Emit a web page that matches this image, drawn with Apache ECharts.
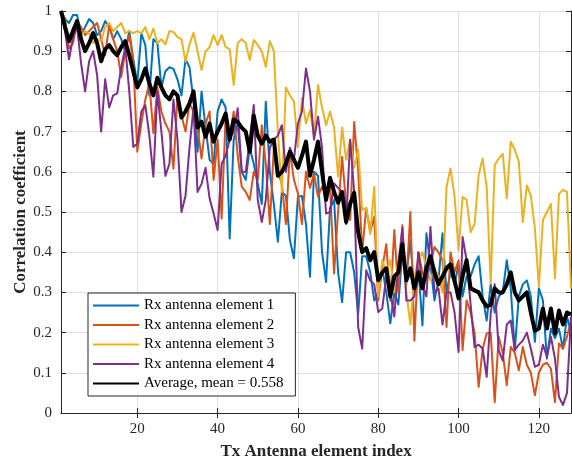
<!DOCTYPE html>
<html>
<head>
<meta charset="utf-8">
<script src="https://cdn.jsdelivr.net/npm/echarts@6/dist/echarts.min.js"></script>
<style>
  html, body { margin: 0; padding: 0; background: #fff; }
  #chart { width: 572px; height: 459px; }
</style>
</head>
<body>
<div id="chart"></div>
<script>
// Correlation coefficient per Tx antenna element (1..128) for each Rx element
const rxElement1 = [
  1.0, 0.98, 0.97, 0.99, 0.99, 0.94, 0.96, 0.98, 0.97, 0.94,
  0.95, 0.975, 0.96, 0.93, 0.95, 0.93, 0.90, 0.95, 0.88, 0.82,
  0.944, 0.915, 0.79, 0.93, 0.92, 0.81, 0.85, 0.86, 0.856, 0.83,
  0.79, 0.88, 0.86, 0.774, 0.65, 0.80, 0.71, 0.63, 0.62, 0.75,
  0.78, 0.76, 0.434, 0.68, 0.72, 0.60, 0.58, 0.66, 0.62, 0.57,
  0.52, 0.774, 0.60, 0.52, 0.426, 0.55, 0.54, 0.43, 0.385, 0.538,
  0.54, 0.47, 0.339, 0.60, 0.59, 0.40, 0.326, 0.51, 0.53, 0.35,
  0.276, 0.40, 0.40, 0.35, 0.247, 0.39, 0.39, 0.35, 0.28, 0.30,
  0.36, 0.30, 0.223, 0.30, 0.27, 0.40, 0.34, 0.43, 0.30, 0.36,
  0.218, 0.447, 0.37, 0.28, 0.33, 0.447, 0.30, 0.35, 0.32, 0.37,
  0.29, 0.34, 0.34, 0.37, 0.39, 0.29, 0.23, 0.32, 0.25, 0.29,
  0.30, 0.38, 0.31, 0.156, 0.29, 0.32, 0.33, 0.29, 0.177, 0.31,
  0.28, 0.135, 0.21, 0.186, 0.21, 0.16, 0.24, 0.20
];
const rxElement2 = [
  1.0, 0.98, 0.907, 0.92, 0.975, 0.96, 0.94, 0.95, 0.96, 0.97,
  0.93, 0.89, 0.965, 0.93, 0.90, 0.836, 0.90, 0.94, 0.875, 0.65,
  0.72, 0.78, 0.82, 0.696, 0.81, 0.75, 0.72, 0.70, 0.608, 0.786,
  0.74, 0.70, 0.77, 0.75, 0.71, 0.633, 0.72, 0.75, 0.58, 0.68,
  0.484, 0.74, 0.687, 0.75, 0.64, 0.563, 0.55, 0.53, 0.60, 0.58,
  0.716, 0.62, 0.47, 0.66, 0.60, 0.57, 0.47, 0.654, 0.58, 0.546,
  0.47, 0.60, 0.56, 0.596, 0.538, 0.563, 0.54, 0.56, 0.347, 0.50,
  0.637, 0.52, 0.48, 0.724, 0.604, 0.40, 0.51, 0.45, 0.488, 0.28,
  0.36, 0.42, 0.28, 0.455, 0.30, 0.467, 0.32, 0.50, 0.18, 0.40,
  0.35, 0.33, 0.37, 0.413, 0.40, 0.38, 0.214, 0.40, 0.35, 0.38,
  0.156, 0.28, 0.25, 0.198, 0.065, 0.16, 0.198, 0.20, 0.027, 0.19,
  0.15, 0.069, 0.164, 0.15, 0.106, 0.164, 0.12, 0.10, 0.044, 0.10,
  0.12, 0.125, 0.11, 0.027, 0.173, 0.16, 0.19, 0.23
];
const rxElement3 = [
  1.0, 0.97, 0.93, 0.96, 0.955, 0.94, 0.95, 0.945, 0.92, 0.93,
  0.925, 0.96, 0.97, 0.95, 0.96, 0.97, 0.945, 0.95, 0.945, 0.95,
  0.945, 0.96, 0.93, 0.956, 0.92, 0.93, 0.917, 0.95, 0.948, 0.935,
  0.93, 0.874, 0.917, 0.946, 0.90, 0.853, 0.90, 0.91, 0.94, 0.915,
  0.94, 0.91, 0.905, 0.816, 0.92, 0.93, 0.92, 0.878, 0.928, 0.915,
  0.90, 0.861, 0.925, 0.90, 0.70, 0.55, 0.81, 0.79, 0.775, 0.662,
  0.783, 0.72, 0.753, 0.69, 0.816, 0.76, 0.716, 0.75, 0.71, 0.588,
  0.71, 0.63, 0.68, 0.61, 0.655, 0.505, 0.51, 0.445, 0.563, 0.29,
  0.38, 0.35, 0.38, 0.30, 0.38, 0.42, 0.30, 0.22, 0.34, 0.38,
  0.40, 0.36, 0.33, 0.36, 0.34, 0.30, 0.563, 0.608, 0.54, 0.405,
  0.538, 0.53, 0.45, 0.47, 0.592, 0.633, 0.563, 0.322, 0.617, 0.633,
  0.645, 0.534, 0.675, 0.655, 0.625, 0.475, 0.566, 0.54, 0.46, 0.314,
  0.48, 0.50, 0.52, 0.335, 0.545, 0.555, 0.55, 0.31
];
const rxElement4 = [
  1.0, 0.95, 0.88, 0.935, 0.96, 0.87, 0.80, 0.875, 0.90, 0.84,
  0.70, 0.83, 0.76, 0.79, 0.795, 0.86, 0.91, 0.80, 0.662, 0.67,
  0.75, 0.766, 0.69, 0.588, 0.80, 0.70, 0.59, 0.62, 0.78, 0.68,
  0.50, 0.54, 0.66, 0.76, 0.55, 0.57, 0.61, 0.534, 0.496, 0.455,
  0.62, 0.64, 0.68, 0.70, 0.758, 0.60, 0.60, 0.68, 0.766, 0.53,
  0.475, 0.53, 0.66, 0.68, 0.69, 0.716, 0.60, 0.66, 0.63, 0.72,
  0.75, 0.857, 0.80, 0.68, 0.737, 0.66, 0.496, 0.50, 0.571, 0.56,
  0.55, 0.47, 0.68, 0.55, 0.214, 0.16, 0.355, 0.33, 0.32, 0.251,
  0.26, 0.34, 0.30, 0.24, 0.37, 0.46, 0.28, 0.28, 0.29, 0.40,
  0.32, 0.29, 0.463, 0.30, 0.31, 0.22, 0.30, 0.30, 0.25, 0.152,
  0.438, 0.38, 0.27, 0.164, 0.17, 0.16, 0.09, 0.247, 0.32, 0.156,
  0.13, 0.22, 0.23, 0.156, 0.17, 0.18, 0.20, 0.16, 0.115, 0.12,
  0.17, 0.14, 0.19, 0.135, 0.04, 0.02, 0.05, 0.24
];
const rxAverage = [
  1.0, 0.96, 0.925, 0.95, 0.975, 0.93, 0.90, 0.92, 0.945, 0.92,
  0.875, 0.905, 0.915, 0.90, 0.89, 0.91, 0.925, 0.89, 0.85, 0.81,
  0.83, 0.857, 0.82, 0.79, 0.834, 0.81, 0.79, 0.78, 0.80, 0.79,
  0.735, 0.75, 0.77, 0.80, 0.71, 0.725, 0.687, 0.72, 0.675, 0.70,
  0.72, 0.745, 0.68, 0.73, 0.724, 0.71, 0.70, 0.65, 0.74, 0.69,
  0.67, 0.69, 0.675, 0.68, 0.59, 0.60, 0.62, 0.65, 0.63, 0.61,
  0.64, 0.675, 0.59, 0.63, 0.675, 0.60, 0.53, 0.585, 0.55, 0.523,
  0.55, 0.475, 0.52, 0.548, 0.45, 0.40, 0.41, 0.38, 0.40, 0.33,
  0.35, 0.36, 0.29, 0.34, 0.35, 0.42, 0.33, 0.36, 0.31, 0.35,
  0.31, 0.36, 0.39, 0.35, 0.32, 0.34, 0.36, 0.37, 0.33, 0.285,
  0.34, 0.38, 0.31, 0.305, 0.30, 0.28, 0.265, 0.27, 0.31, 0.30,
  0.30, 0.32, 0.35, 0.30, 0.28, 0.29, 0.30, 0.25, 0.205, 0.21,
  0.26, 0.21, 0.26, 0.198, 0.255, 0.22, 0.25, 0.245
];
const seriesNames = [
  'Rx antenna element 1', 'Rx antenna element 2', 'Rx antenna element 3',
  'Rx antenna element 4', 'Average, mean = 0.558'
];
const xTickValues = [20, 40, 60, 80, 100, 120];
const xMin = 1, xMax = 128;

const seriesData = [rxElement1, rxElement2, rxElement3, rxElement4, rxAverage];
const colors = ['#0072BD', '#D95319', '#EDB120', '#7E2F8E', '#000000'];
const widths = [2, 2, 2, 2, 4];

const axisColor = '#262626';
const gridColor = '#e0e0e0';
const serif = '"Liberation Serif", "Times New Roman", serif';

const chart = echarts.init(document.getElementById('chart'), null, { renderer: 'canvas' });

const series = seriesData.map((vals, k) => ({
  name: seriesNames[k],
  type: 'line',
  data: vals.map((v, i) => [i + 1, v]),
  symbol: 'none',
  color: colors[k],
  lineStyle: { color: colors[k], width: widths[k], join: 'round' },
  animation: false,
  z: 2 + k
}));

chart.setOption({
  backgroundColor: '#ffffff',
  animation: false,
  grid: {
    left: 61, right: 1, top: 11, bottom: 46,
    containLabel: false, outerBoundsMode: 'none'
  },
  legend: {
    orient: 'vertical',
    left: 88,
    top: 293,
    data: seriesNames,
    itemWidth: 46,
    itemHeight: 14,
    itemGap: 4.5,
    padding: [5, 12, 5, 4],
    borderColor: axisColor,
    borderWidth: 1,
    backgroundColor: '#ffffff',
    itemStyle: { opacity: 0 },
    textStyle: { fontFamily: serif, fontSize: 15, color: '#000' },
    selectedMode: false
  },
  xAxis: [
    {
      type: 'value', min: xMin, max: xMax, position: 'bottom',
      name: 'Tx Antenna element index', nameLocation: 'middle', nameGap: 30,
      nameMoveOverlap: false,
      nameTextStyle: { fontFamily: serif, fontSize: 17, fontWeight: 'bold', color: axisColor },
      axisLine: { show: true, lineStyle: { color: axisColor, width: 1 } },
      axisTick: { show: true, inside: true, length: 5, customValues: xTickValues, lineStyle: { color: axisColor } },
      axisLabel: { show: true, customValues: xTickValues, margin: 9, fontFamily: serif, fontSize: 15, color: axisColor },
      splitLine: { show: true, lineStyle: { color: gridColor, width: 1 } }
    },
    {
      type: 'value', min: xMin, max: xMax, position: 'top',
      axisLine: { show: true, lineStyle: { color: axisColor, width: 1 } },
      axisTick: { show: true, inside: true, length: 5, customValues: xTickValues, lineStyle: { color: axisColor } },
      axisLabel: { show: false },
      splitLine: { show: false }
    }
  ],
  yAxis: [
    {
      type: 'value', min: 0, max: 1, interval: 0.1, position: 'left',
      name: 'Correlation coefficient', nameLocation: 'middle', nameGap: 32,
      nameMoveOverlap: false,
      nameTextStyle: { fontFamily: serif, fontSize: 17, fontWeight: 'bold', color: axisColor },
      axisLine: { show: true, lineStyle: { color: axisColor, width: 1 } },
      axisTick: { show: true, inside: true, length: 5, lineStyle: { color: axisColor } },
      axisLabel: { show: true, margin: 9, fontFamily: serif, fontSize: 15, color: axisColor },
      splitLine: { show: true, lineStyle: { color: gridColor, width: 1 } }
    },
    {
      type: 'value', min: 0, max: 1, interval: 0.1, position: 'right',
      axisLine: { show: true, lineStyle: { color: axisColor, width: 1 } },
      axisTick: { show: true, inside: true, length: 5, lineStyle: { color: axisColor } },
      axisLabel: { show: false },
      splitLine: { show: false }
    }
  ],
  series: series
});
</script>
</body>
</html>
